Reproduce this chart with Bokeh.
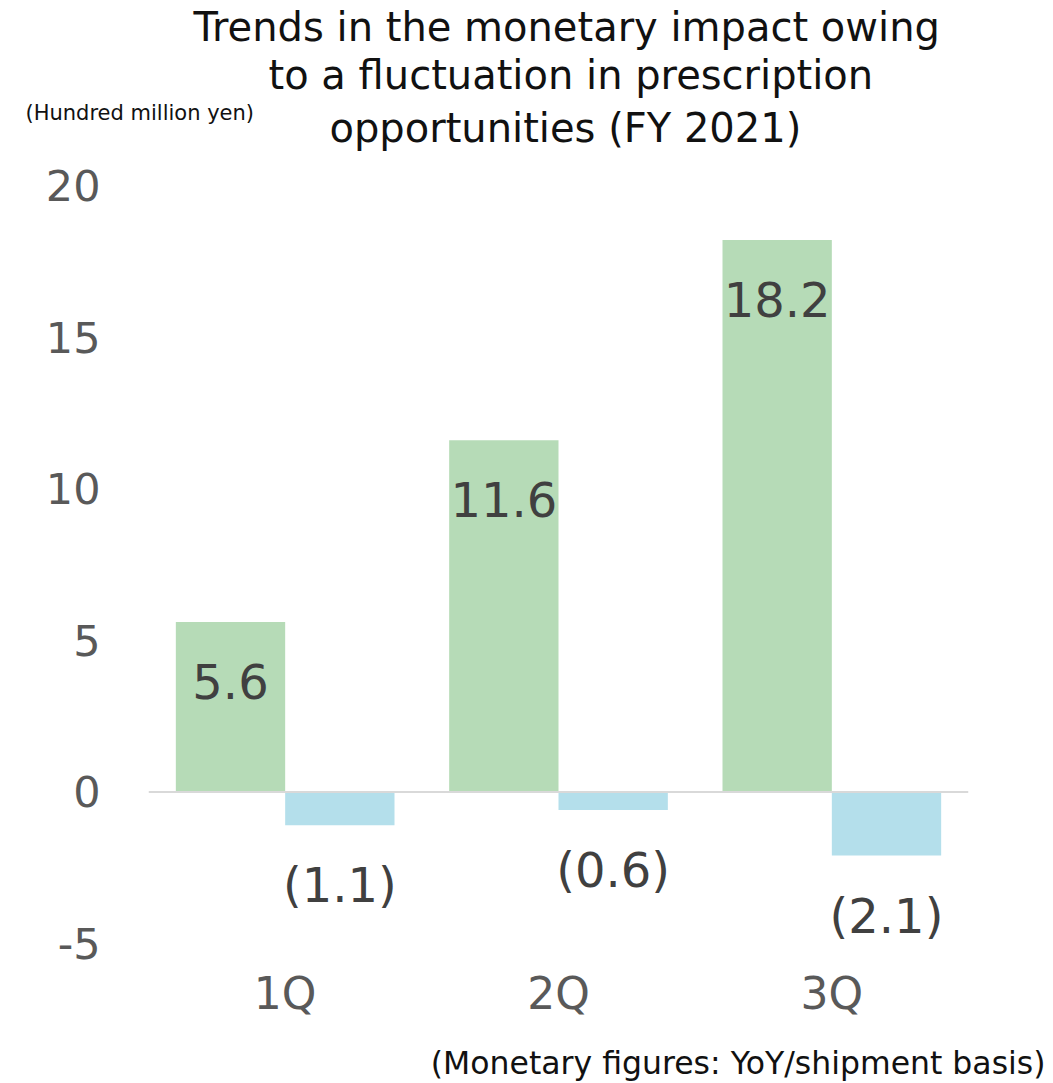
from bokeh.plotting import figure
from bokeh.models import (ColumnDataSource, FactorRange, Range1d, FixedTicker, Span,
                          LabelSet, Title, PrintfTickFormatter)
from bokeh.core.properties import value
from bokeh.transform import dodge
from bokeh.embed import file_html
from bokeh.resources import INLINE

# ---- data ----
quarters = ["1Q", "2Q", "3Q"]
increase = [5.6, 11.6, 18.2]
decrease = [-1.1, -0.6, -2.1]
inc_labels = ["5.6", "11.6", "18.2"]
dec_labels = ["(1.1)", "(0.6)", "(2.1)"]
y_ticks = [-5, 0, 5, 10, 15, 20]
title_lines = ["Trends in the monetary impact owing",
               "to a fluctuation in prescription",
               "opportunities (FY 2021)"]
unit_text = "(Hundred million yen)"
note_text = "(Monetary figures: YoY/shipment basis)"

FONT = "DejaVu Sans"
GREEN = "#b6dbb7"
BLUE = "#b4dfeb"

W, H = 1053, 1083
LEFT, RIGHT = 148, 85
YMIN, YMAX = -5, 20

src = ColumnDataSource(dict(q=quarters, inc=increase, dec=decrease,
                            inc_lbl=inc_labels, dec_lbl=dec_labels))

p = figure(width=W, height=H, x_range=FactorRange(*quarters, range_padding=0),
           y_range=Range1d(YMIN, YMAX), output_backend="svg", toolbar_location=None,
           min_border_left=LEFT, min_border_right=RIGHT, min_border_top=0,
           min_border_bottom=0)
p.outline_line_color = None
p.xgrid.visible = False
p.ygrid.visible = False
p.background_fill_color = "white"
p.border_fill_color = "white"

p.vbar(x=dodge("q", -0.2, range=p.x_range), top="inc", bottom=0, width=0.4,
       source=src, fill_color=GREEN, line_color=None)
p.vbar(x=dodge("q", 0.2, range=p.x_range), top="dec", bottom=0, width=0.4,
       source=src, fill_color=BLUE, line_color=None)

p.add_layout(Span(location=0, dimension="width", line_color="#d9d9d9", line_width=2))

p.add_layout(LabelSet(x=dodge("q", -0.2, range=p.x_range), y="inc", text="inc_lbl",
                      source=src, y_offset=-59, text_align="center", text_baseline="middle",
                      text_font=value(FONT), text_font_size=value("48px"),
                      text_color=value("#404040")))
p.add_layout(LabelSet(x=dodge("q", 0.2, range=p.x_range), y="dec", text="dec_lbl",
                      source=src, y_offset=-60, text_align="center", text_baseline="middle",
                      text_font=value(FONT), text_font_size=value("48px"),
                      text_color=value("#404040")))

ya = p.yaxis[0]
ya.ticker = FixedTicker(ticks=y_ticks)
ya.formatter = PrintfTickFormatter(format="%d")
ya.axis_line_color = None
ya.major_tick_line_color = None
ya.minor_tick_line_color = None
ya.major_label_text_font = FONT
ya.major_label_text_font_size = "43px"
ya.major_label_text_color = "#595959"
ya.major_label_standoff = 42

xa = p.xaxis[0]
xa.axis_line_color = None
xa.major_tick_line_color = None
xa.minor_tick_line_color = None
xa.major_label_text_font = FONT
xa.major_label_text_font_size = "44px"
xa.major_label_text_color = "#595959"
xa.major_label_standoff = 18


def title(text, size, align, offset, standoff, color="#111111"):
    return Title(text=text, align=align, offset=offset, standoff=standoff,
                 text_font=FONT, text_font_size=size, text_font_style="normal",
                 text_color=color)

# panels above the frame, added from the frame outwards:
# spacer, title line 3, unit text, title line 2, title line 1
p.add_layout(title(" ", "40px", "left", 0, 10.5, "white"), "above")
p.add_layout(title(title_lines[2], "40px", "left", 181, -48.5), "above")
p.add_layout(title(unit_text, "21px", "left", -123, 2.5), "above")
p.add_layout(title(title_lines[1], "40px", "left", 120, -1.5), "above")
p.add_layout(title(title_lines[0], "40px", "left", 45, 1.5), "above")

# panels below: spacer, then the note
p.add_layout(title(" ", "10px", "left", 0, 6, "white"), "below")
p.add_layout(title(note_text, "31.5px", "right", -77, 4.8), "below")

open("out.html", "w").write(file_html(p, INLINE))
